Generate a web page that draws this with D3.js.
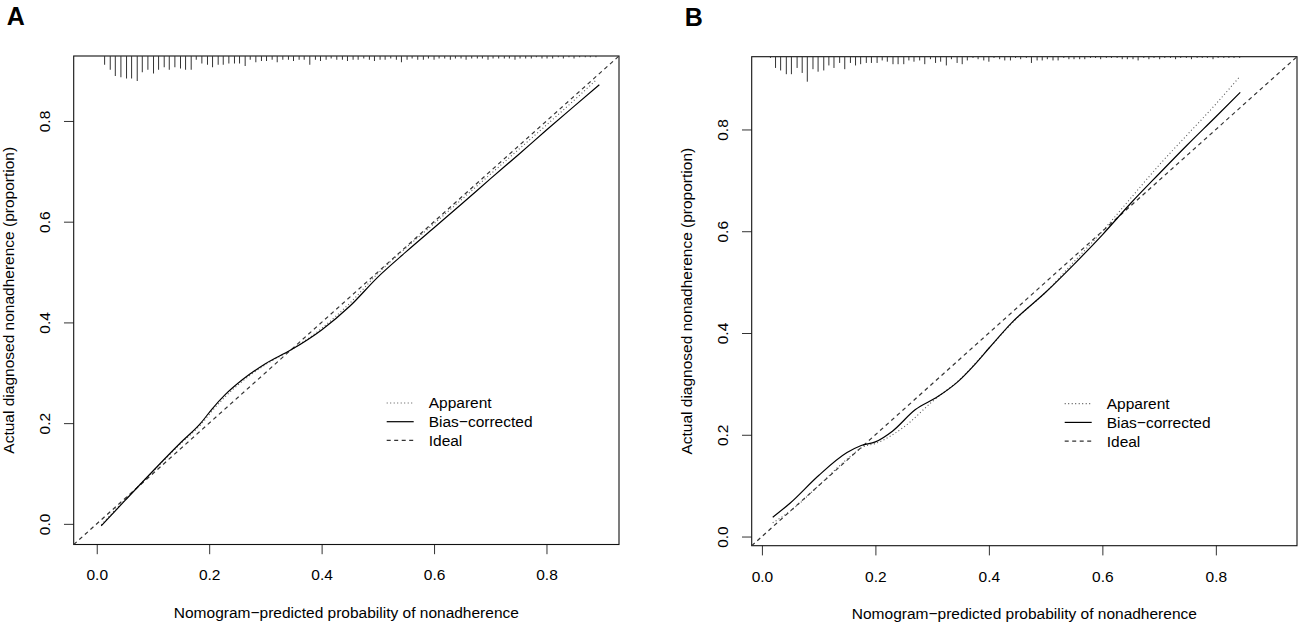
<!DOCTYPE html>
<html>
<head>
<meta charset="utf-8">
<script src="https://cdn.jsdelivr.net/npm/d3@7"></script>
<style>
  body { margin: 0; background: #fff; }
  text { font-family: "Liberation Sans", Arial, Helvetica, sans-serif; fill: #000; }
</style>
</head>
<body>
<div id="chart"></div>
<script>
// ---- data ----
const tickValues = [0, 0.2, 0.4, 0.6, 0.8];
const legendLabels = ["Apparent", "Bias\u2212corrected", "Ideal"];
const xTitle = "Nomogram\u2212predicted probability of nonadherence";
const yTitle = "Actual diagnosed nonadherence (proportion)";

// panel A
const biasXA = [0.008,0.05,0.1,0.15,0.185,0.205,0.228,0.26,0.3,0.345,0.4,0.45,0.5,0.55,0.6,0.65,0.7,0.75,0.8,0.85,0.894];
const biasYA = [-0.004,0.046,0.105,0.162,0.2,0.228,0.256,0.287,0.318,0.345,0.385,0.432,0.49,0.54,0.588,0.636,0.685,0.733,0.782,0.83,0.872];
const appXA = [0.008,0.05,0.1,0.15,0.185,0.205,0.228,0.26,0.3,0.345,0.4,0.45,0.5,0.55,0.6,0.65,0.7,0.75,0.8,0.85,0.888];
const appYA = [-0.002,0.048,0.104,0.16,0.197,0.224,0.252,0.284,0.316,0.345,0.388,0.438,0.497,0.548,0.596,0.645,0.694,0.743,0.792,0.842,0.881];
const rugXA = [0.014,0.024,0.033,0.043,0.053,0.062,0.072,0.081,0.091,0.101,0.110,0.120,0.129,0.139,0.149,0.158,0.168,0.177,0.187,0.197,
  0.206,0.216,0.225,0.235,0.245,0.254,0.264,0.273,0.283,0.293,0.302,0.312,0.321,0.331,0.341,0.350,0.360,0.369,0.379,0.389,
  0.398,0.408,0.417,0.427,0.437,0.446,0.456,0.465,0.475,0.485,0.494,0.504,0.513,0.523,0.533,0.542,0.552,0.561,0.571,0.581,
  0.590,0.600,0.609,0.619,0.629,0.638,0.648,0.657,0.667,0.677,0.686,0.696,0.705,0.715,0.725,0.734,0.744,0.753,0.763,0.773,
  0.782,0.792,0.801,0.811,0.821,0.830,0.840,0.849,0.859,0.869,0.878,0.888];
const rugNA = [7,11,16,17,18,18,20,13,11,14,11,9,11,9,10,11,11,3,6,7,
  9,7,7,6,6,6,8,3,5,4,4,3,5,3,3,4,3,3,7,3,
  4,3,2,3,3,4,3,3,2,3,4,3,3,2,3,5,3,2,3,3,
  2,3,2,2,3,2,2,3,2,2,2,3,2,2,2,2,3,2,2,2,
  1,2,2,2,1,2,1,2,1,1,1,1];

// panel B
const biasXB = [0.019,0.05,0.1,0.15,0.175,0.2,0.23,0.27,0.31,0.345,0.375,0.4,0.44,0.5,0.55,0.6,0.65,0.7,0.75,0.8,0.843];
const biasYB = [0.038,0.066,0.12,0.165,0.179,0.186,0.207,0.249,0.275,0.304,0.338,0.37,0.42,0.48,0.535,0.593,0.655,0.713,0.77,0.825,0.873];
const appXB = [0.019,0.05,0.1,0.15,0.18,0.2,0.25,0.3,0.35,0.4,0.45,0.5,0.55,0.6,0.65,0.7,0.75,0.8,0.843];
const appYB = [0.027,0.05,0.1,0.152,0.177,0.183,0.215,0.265,0.31,0.37,0.43,0.48,0.54,0.6,0.665,0.73,0.79,0.85,0.905];
const rugXB = [0.015,0.024,0.033,0.043,0.052,0.062,0.071,0.080,0.090,0.099,0.109,0.118,0.127,0.137,0.146,0.156,0.165,0.174,0.184,0.193,
  0.203,0.212,0.221,0.231,0.240,0.250,0.259,0.268,0.278,0.287,0.297,0.306,0.315,0.325,0.334,0.344,0.353,0.362,0.372,0.381,
  0.391,0.400,0.409,0.419,0.428,0.438,0.447,0.456,0.466,0.475,0.485,0.494,0.503,0.513,0.522,0.532,0.541,0.550,0.560,0.569,
  0.579,0.588,0.597,0.607,0.616,0.626,0.635,0.644,0.654,0.663,0.673,0.682,0.691,0.701,0.710,0.720,0.729,0.738,0.748,0.757,
  0.767,0.776,0.785,0.795,0.804,0.814,0.823,0.832,0.842];
const rugNB = [1,9,11,14,14,9,13,20,10,12,11,7,9,5,10,5,7,6,5,5,
  5,3,4,6,6,6,3,4,3,6,2,5,4,7,2,5,6,3,1,2,
  3,4,1,2,3,3,1,2,1,5,3,3,2,3,3,1,2,2,2,2,
  1,1,2,1,1,1,2,2,2,3,1,2,1,2,1,1,2,1,1,2,
  1,1,1,2,1,1,1,1,1];

const W = 1299, H = 622;

class CalPanel {
    constructor(svg, cfg) {
        this.svg = svg;
        this.cfg = cfg;
    }

    initViz() {
        let vis = this;
        let c = vis.cfg;

        vis.g = vis.svg.append("g").attr("transform", "translate(" + c.left + "," + c.top + ")");
        vis.width = c.width;
        vis.height = c.height;

        // same limits on both axes (R style: data range + 4%)
        vis.x = d3.scaleLinear().domain(c.lim).range([0, vis.width]);
        vis.y = d3.scaleLinear().domain(c.lim).range([vis.height, 0]);

        let clipId = "clip" + c.letter;
        vis.g.append("defs").append("clipPath").attr("id", clipId)
            .append("rect").attr("width", vis.width).attr("height", vis.height);

        // axes
        let xAxis = d3.axisBottom(vis.x).tickValues(tickValues).tickFormat(d3.format(".1f"))
            .tickSize(9.7).tickSizeOuter(0);
        let yAxis = d3.axisLeft(vis.y).tickValues(tickValues).tickFormat(d3.format(".1f"))
            .tickSize(9.7).tickSizeOuter(0);

        let gx = vis.g.append("g").attr("transform", "translate(0," + vis.height + ")").call(xAxis);
        let gy = vis.g.append("g").call(yAxis);
        [gx, gy].forEach(a => {
            a.select(".domain").remove();
            a.selectAll(".tick line").attr("stroke", "#333");
            a.selectAll(".tick text").style("font-size", "15.5px")
                .style("font-family", "'Liberation Sans', Arial, sans-serif").attr("fill", "#000");
        });
        gx.selectAll(".tick text").attr("y", 30.5).attr("dy", "0.35em");
        gy.selectAll(".tick text")
            .attr("transform", "rotate(-90)")
            .attr("text-anchor", "middle")
            .attr("x", 0).attr("y", -28.7).attr("dy", "0.35em");

        // box
        vis.g.append("rect")
            .attr("width", vis.width).attr("height", vis.height)
            .attr("fill", "none").attr("stroke", "#111").attr("stroke-width", 1.1);

        // rug of predicted probabilities, hanging from the top
        let rugLen = d3.scaleLinear().domain([0, 20]).range([0, 25]);
        vis.g.append("g").selectAll("line")
            .data(c.rugX.map((d, i) => ({x: d, n: c.rugN[i]})))
            .enter().append("line")
            .attr("x1", d => vis.x(d.x)).attr("x2", d => vis.x(d.x))
            .attr("y1", 0).attr("y2", d => rugLen(d.n))
            .attr("stroke", "#333").attr("stroke-width", 1);

        let curve = d3.line().x(d => vis.x(d[0])).y(d => vis.y(d[1])).curve(d3.curveMonotoneX);
        let lines = vis.g.append("g").attr("clip-path", "url(#" + clipId + ")");

        // ideal
        let lim = vis.x.domain();
        lines.append("path")
            .attr("d", d3.line().x(d => vis.x(d)).y(d => vis.y(d))(lim))
            .attr("fill", "none").attr("stroke", "#333").attr("stroke-width", 1.2)
            .attr("stroke-dasharray", "4,3.5");

        // apparent
        lines.append("path")
            .attr("d", curve(c.appX.map((d, i) => [d, c.appY[i]])))
            .attr("fill", "none").attr("stroke", "#555").attr("stroke-width", 1.1)
            .attr("stroke-dasharray", "1,2.5");

        // bias-corrected
        lines.append("path")
            .attr("d", curve(c.biasX.map((d, i) => [d, c.biasY[i]])))
            .attr("fill", "none").attr("stroke", "#000").attr("stroke-width", 1.2);

        // legend
        let styles = [
            {stroke: "#555", dash: "1,2.5"},
            {stroke: "#000", dash: null},
            {stroke: "#333", dash: "4,3.5"}
        ];
        let leg = vis.g.append("g").attr("transform", "translate(313,347)");
        legendLabels.forEach(function (lab, i) {
            let row = leg.append("g").attr("transform", "translate(0," + (i * 18.7) + ")");
            row.append("line").attr("x1", 0).attr("x2", 27).attr("y1", 0).attr("y2", 0)
                .attr("stroke", styles[i].stroke).attr("stroke-width", 1.2)
                .attr("stroke-dasharray", styles[i].dash);
            row.append("text").attr("x", 42).attr("y", 0).attr("dy", "0.35em")
                .style("font-size", "15.5px").text(lab);
        });

        // titles
        vis.g.append("text")
            .attr("x", vis.width / 2).attr("y", vis.height + 68).attr("dy", "0.35em")
            .attr("text-anchor", "middle").style("font-size", "15.5px").text(xTitle);
        vis.g.append("text")
            .attr("transform", "translate(-65," + (vis.height / 2) + ") rotate(-90)")
            .attr("text-anchor", "middle").attr("dy", "0.35em")
            .style("font-size", "15.5px").text(yTitle);

        // panel letter
        vis.g.append("text")
            .attr("x", -58).attr("y", -31)
            .attr("text-anchor", "middle")
            .style("font-size", "25px").style("font-weight", "bold")
            .text(c.letter);
    }
}

const svg = d3.select("#chart").append("svg")
    .attr("width", W).attr("height", H);

new CalPanel(svg, {
    letter: "A", left: 73.7, top: 56, width: 545.3, height: 488.5,
    lim: [-0.041, 0.929],
    biasX: biasXA, biasY: biasYA, appX: appXA, appY: appYA, rugX: rugXA, rugN: rugNA
}).initViz();

new CalPanel(svg, {
    letter: "B", left: 751.7, top: 56.7, width: 545.3, height: 489,
    lim: [-0.018, 0.943],
    biasX: biasXB, biasY: biasYB, appX: appXB, appY: appYB, rugX: rugXB, rugN: rugNB
}).initViz();
</script>
</body>
</html>
